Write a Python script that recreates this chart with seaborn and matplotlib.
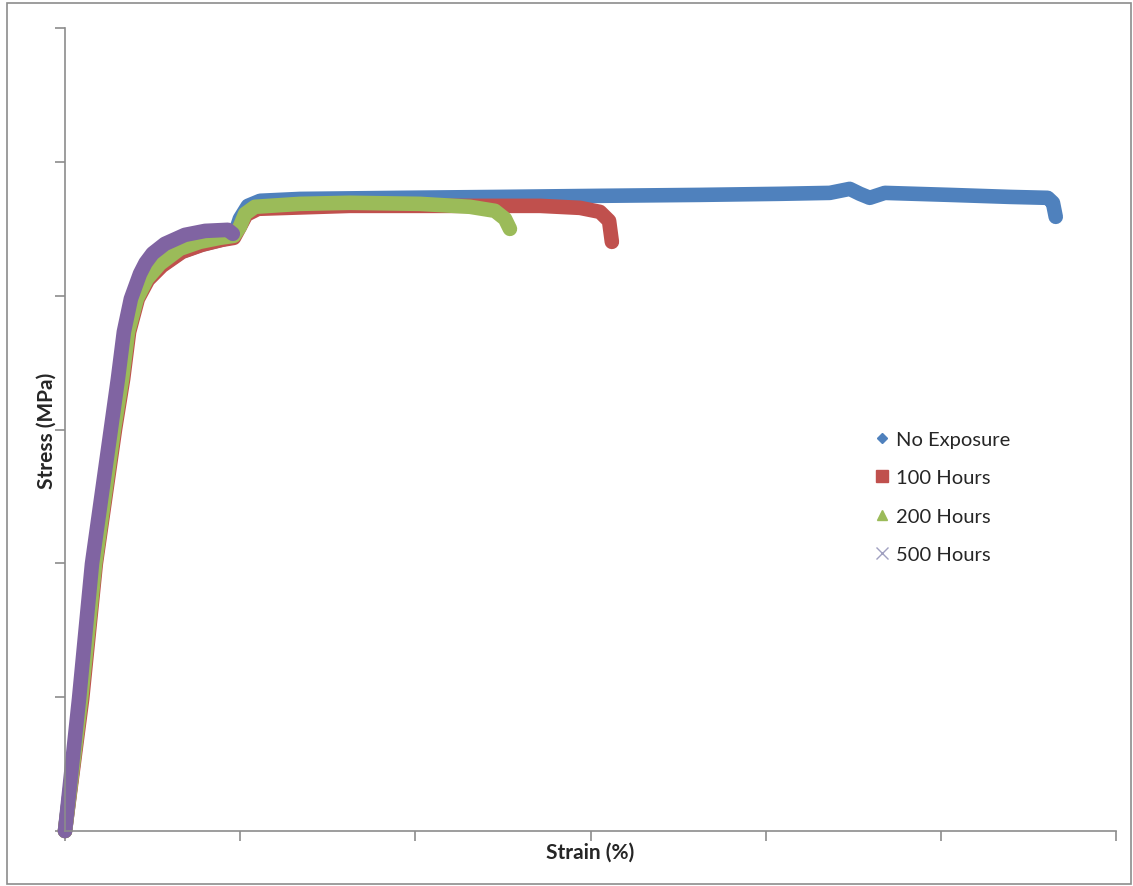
import matplotlib
matplotlib.use("Agg")
import matplotlib.pyplot as plt
from matplotlib.lines import Line2D
from matplotlib.patches import Rectangle
import seaborn as sns
import pandas as pd

# strain (%) and stress (MPa), axis 0-30 / 0-600
no_exp_strain = [0, 0.46, 0.86, 1.40, 1.63, 1.80, 2.05, 2.34, 2.74, 3.31, 3.88, 4.45, 4.82,
                 4.99, 5.22, 5.57, 6.71, 9.56, 12.41, 15.27, 18.12, 20.41, 21.83, 22.40,
                 22.69, 22.97, 23.40, 25.26, 26.97, 28.05, 28.20, 28.28]
no_exp_stress = [0, 98.7, 199.6, 300.4, 337.8, 372.9, 397.6, 411.8, 422.3, 432.7, 438.0, 441.7,
                 444.0, 457.4, 467.1, 470.9, 472.3, 473.1, 473.8, 474.6, 475.3, 476.1, 476.8,
                 479.8, 476.1, 473.1, 476.8, 475.3, 473.8, 473.1, 469.4, 458.9]

h100_strain = [0, 0.49, 0.88, 1.43, 1.66, 1.83, 2.08, 2.37, 2.77, 3.34, 3.91, 4.48, 4.82,
               4.99, 5.17, 5.51, 8.13, 10.99, 13.56, 14.70, 15.27, 15.53, 15.61]
h100_stress = [0, 98.7, 199.6, 300.4, 337.8, 372.9, 397.6, 411.8, 422.3, 432.7, 438.0, 441.7,
               443.2, 451.4, 460.4, 464.9, 467.1, 467.1, 467.1, 465.6, 462.6, 455.9, 440.2]

h200_strain = [0, 0.46, 0.86, 1.40, 1.63, 1.80, 2.05, 2.34, 2.71, 3.28, 3.85, 4.42, 4.82,
               4.99, 5.14, 5.42, 6.71, 8.13, 10.13, 11.56, 12.27, 12.56, 12.70]
h200_stress = [0, 98.7, 199.6, 300.4, 337.8, 372.9, 397.6, 412.6, 423.8, 435.0, 440.2, 443.2,
               444.7, 451.4, 461.1, 466.4, 468.6, 469.4, 468.6, 466.4, 463.4, 457.4, 449.9]

h500_strain = [0, 0.40, 0.77, 1.31, 1.51, 1.68, 1.88, 2.14, 2.30, 2.50, 2.85, 3.42, 4.00,
               4.65, 4.79]
h500_stress = [0, 98.7, 199.6, 300.4, 337.8, 372.9, 397.6, 416.3, 424.5, 431.5, 438.7, 445.4,
               448.4, 449.2, 446.2]

series_names = ["No Exposure", "100 Hours", "200 Hours", "500 Hours"]
colors = ["#4F81BD", "#C0504D", "#9BBB59", "#8064A2"]

frames = []
for name, xs, ys in zip(series_names,
                        [no_exp_strain, h100_strain, h200_strain, h500_strain],
                        [no_exp_stress, h100_stress, h200_stress, h500_stress]):
    frames.append(pd.DataFrame({"strain": xs, "stress": ys, "series": name}))
data = pd.concat(frames, ignore_index=True)

sns.set_style("white")
plt.rcParams["font.family"] = ["Lato", "DejaVu Sans"]

fig = plt.figure(figsize=(11.33, 8.87), dpi=100)
ax = fig.add_axes([65 / 1133, 55 / 887, (1116 - 65) / 1133, (832 - 29) / 887])

sns.lineplot(data=data, x="strain", y="stress", hue="series", hue_order=series_names,
             palette=dict(zip(series_names, colors)), sort=False, estimator=None,
             linewidth=10.5, legend=False, ax=ax, clip_on=False,
             solid_capstyle="round", solid_joinstyle="round")

ax.set_xlim(0, 30)
ax.set_ylim(0, 600)
ax.set_xticks(range(0, 31, 5))
ax.set_yticks(range(0, 601, 100))
ax.set_xticklabels([])
ax.set_yticklabels([])
for side in ["top", "right"]:
    ax.spines[side].set_visible(False)
for side in ["left", "bottom"]:
    ax.spines[side].set_color("#8c8c8c")
    ax.spines[side].set_linewidth(1.2)
ax.tick_params(axis="both", direction="out", length=7, width=1.2, color="#8c8c8c")
ax.tick_params(axis="x", bottom=True)
ax.tick_params(axis="y", left=True)

ax.set_xlabel("Strain (%)", fontsize=15, fontweight="bold")
ax.set_ylabel("Stress (MPa)", fontsize=15, fontweight="bold")
ax.xaxis.set_label_coords((590 - 65) / 1051, -(853 - 832) / 803)
ax.yaxis.set_label_coords(-(65 - 47) / 1051, (832 - 431) / 803)
ax.xaxis.label.set_va("center")
ax.yaxis.label.set_va("center")

handles = [
    Line2D([], [], linestyle="", marker="D", markersize=5, color=colors[0]),
    Line2D([], [], linestyle="", marker="s", markersize=8, color=colors[1]),
    Line2D([], [], linestyle="", marker="^", markersize=7, color=colors[2]),
    Line2D([], [], linestyle="", marker="x", markersize=8, color="#a0a0c0", markeredgewidth=1),
]
fig.legend(handles, series_names, loc="upper left", bbox_to_anchor=(852 / 1133, 1 - 414 / 887),
           frameon=False, fontsize=14.5, labelspacing=1.05, handletextpad=0.1,
           handlelength=1.2)

fig.patches.append(Rectangle((7 / 1133, 2 / 887), 1124 / 1133, 881 / 887,
                             transform=fig.transFigure, fill=False,
                             edgecolor="#8c8c8c", linewidth=1.2))

fig.savefig("out.png", dpi=100)
